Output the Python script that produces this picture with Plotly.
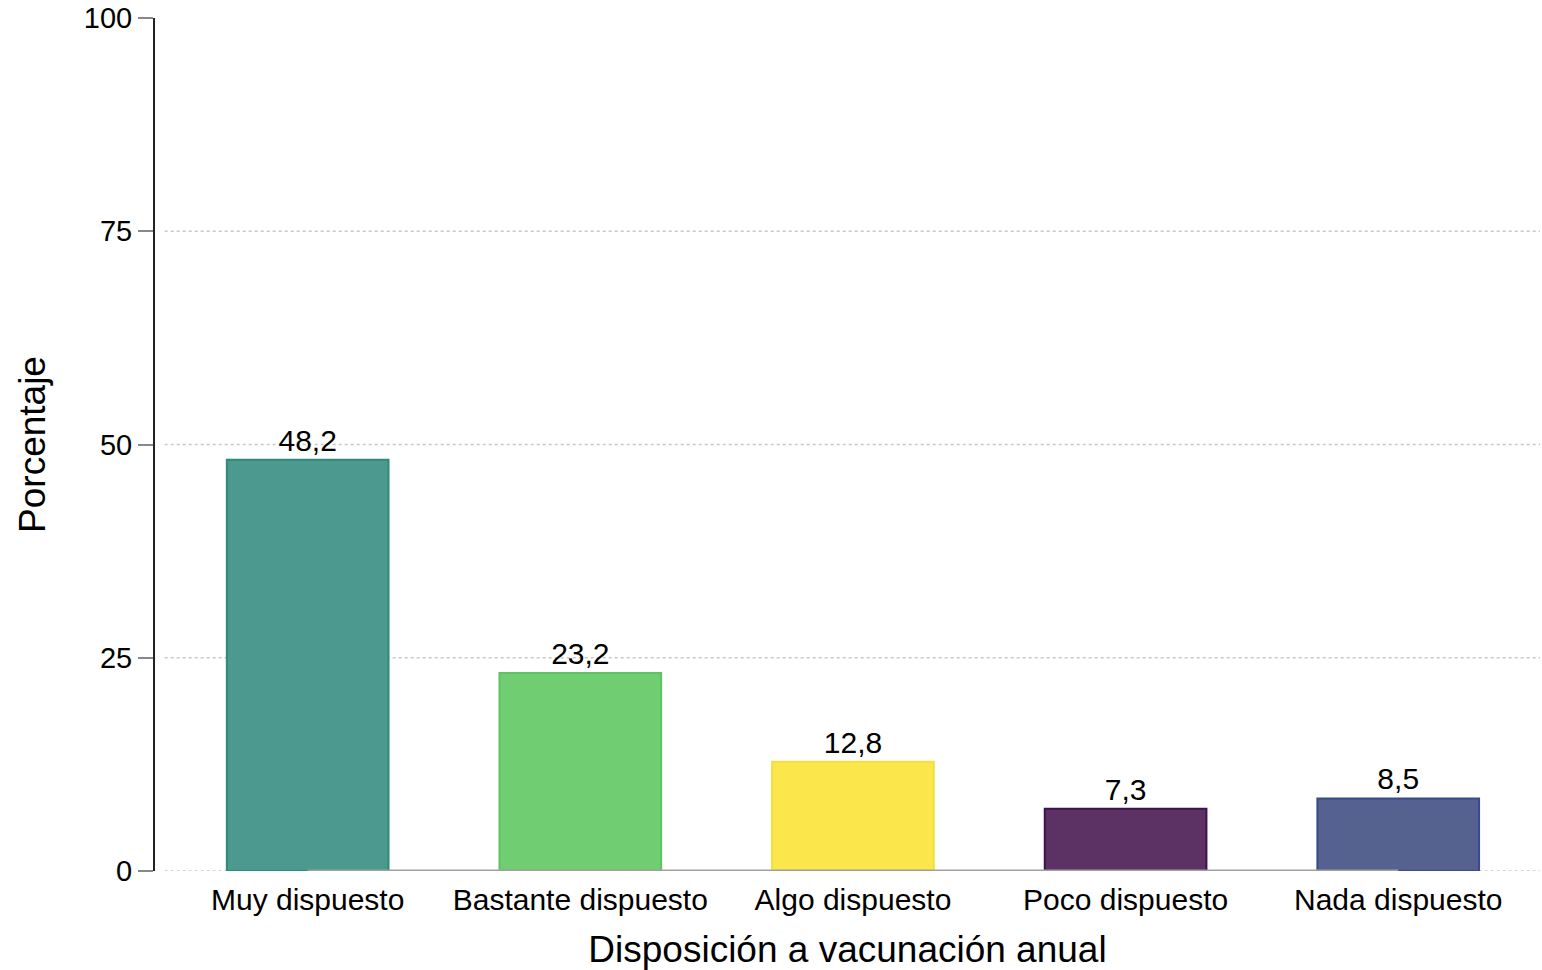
import plotly.graph_objects as go

# Data
categorias = ["Muy dispuesto", "Bastante dispuesto", "Algo dispuesto", "Poco dispuesto", "Nada dispuesto"]
porcentajes = [48.2, 23.2, 12.8, 7.3, 8.5]
ticks_y = [0, 25, 50, 75, 100]

colores = ["#4b998f", "#70cd71", "#fbe74b", "#5c3163", "#55618f"]
bordes = ["#2d8a7c", "#5fc262", "#f4de3c", "#3d1250", "#3a4a8a"]

etiquetas = [f"{v:.1f}".replace(".", ",") for v in porcentajes]

fig = go.Figure()

fig.add_trace(go.Bar(
    x=categorias,
    y=porcentajes,
    width=0.593,
    marker=dict(color=colores, line=dict(color=bordes, width=2)),
    text=etiquetas,
    textposition="outside",
    textfont=dict(size=30, color="black"),
    cliponaxis=False,
    showlegend=False,
))

# grey baseline between first and last category
fig.add_trace(go.Scatter(
    x=[categorias[0], categorias[-1]],
    y=[0, 0],
    mode="lines",
    line=dict(color="#a0a0a0", width=3),
    showlegend=False,
    hoverinfo="skip",
    cliponaxis=False,
))

# dotted gridlines (no line at 100)
for t in ticks_y[:-1]:
    fig.add_shape(type="line", xref="paper", yref="y",
                  x0=0.007, x1=1, y0=t, y1=t,
                  line=dict(color="#c8c8c8", width=1.5, dash="dot"),
                  layer="below")

fig.update_layout(
    width=1542, height=970,
    margin=dict(l=155, r=2, t=18, b=99),
    plot_bgcolor="white",
    paper_bgcolor="white",
    font=dict(family="Liberation Sans, Arial, sans-serif", color="black", size=29),
    bargap=0.4,
)

fig.update_xaxes(
    range=[-0.56, 4.52],
    automargin=False,
    showline=False, showgrid=False, ticks="",
    tickfont=dict(size=30),
    ticklabelstandoff=8,
    title=dict(text="Disposición a vacunación anual", font=dict(size=37), standoff=28),
)

fig.update_yaxes(
    range=[0, 100],
    automargin=False,
    tickvals=ticks_y,
    showgrid=False, zeroline=False,
    showline=True, linecolor="#222", linewidth=2,
    ticks="outside", ticklen=15, tickwidth=2, tickcolor="#888",
    tickfont=dict(size=29),
    title=dict(text="Porcentaje", font=dict(size=37), standoff=27),
)

# drop the default page margin so the figure fills the window exactly
fig.write_html("out.html", config={"displayModeBar": False},
               post_script="document.body.style.margin='0';")
